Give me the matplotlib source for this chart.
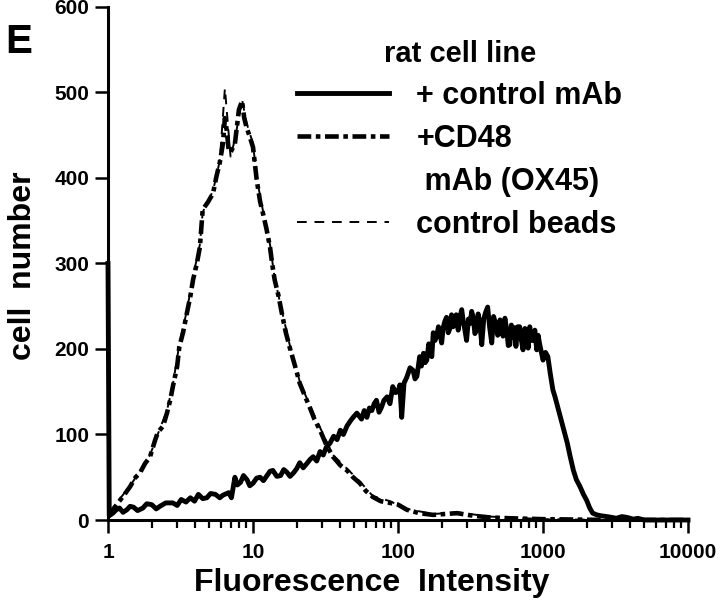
import matplotlib
matplotlib.use("Agg")
import matplotlib.pyplot as plt
from matplotlib.lines import Line2D
from matplotlib.ticker import LogLocator, NullFormatter

plt.rcParams['font.family'] = ['Liberation Sans', 'DejaVu Sans']
plt.rcParams['font.weight'] = 'bold'

# control mAb histogram (solid), (intensity, cell count)
ctrl_points = [
    (1.0, 300), (1.02, 5), (1.08, 8), (1.14, 12), (1.2, 14), (1.27, 9), (1.35, 12),
    (1.42, 16), (1.5, 15), (1.6, 11), (1.74, 14), (1.85, 19), (2.0, 18), (2.15, 13),
    (2.28, 16), (2.5, 20), (2.8, 20), (3.0, 17), (3.2, 24), (3.45, 21), (3.7, 26),
    (3.95, 22), (4.2, 30), (4.5, 25), (4.8, 26), (5.1, 31), (5.5, 30), (5.9, 26),
    (6.2, 29), (6.8, 32), (7.1, 26), (7.5, 50), (7.8, 41), (8.2, 44), (8.6, 52),
    (9.1, 47), (9.5, 40), (10, 43), (10.6, 49), (11.2, 50), (11.8, 46), (12.5, 52),
    (13.1, 57), (13.7, 58), (14.6, 51), (15.5, 52), (16.3, 59), (17.1, 56), (18, 51),
    (19, 55), (20, 60), (21, 67), (22.2, 61), (23.5, 66), (24.8, 71), (26, 74),
    (27.5, 69), (29, 80), (30.5, 76), (32, 85), (34, 90), (36, 98), (38, 94),
    (40, 105), (42, 100), (44.5, 110), (47, 116), (49, 120), (52, 125), (56, 118),
    (58.5, 128), (61, 120), (63.5, 131), (66, 128), (68.5, 136), (71, 140), (74, 126),
    (77, 132), (80, 140), (84, 144), (88, 136), (92, 156), (96, 149), (100, 150),
    (103, 158), (106, 120), (110, 160), (115, 167), (121, 178), (127, 175), (131, 165),
    (135, 168), (141, 191), (145, 180), (150, 195), (154, 184), (158, 187), (163, 206),
    (167, 200), (171, 191), (175, 219), (180, 210), (185, 215), (190, 226), (194, 219),
    (200, 207), (205, 225), (210, 232), (216, 237), (222, 219), (228, 224), (234, 240),
    (240, 226), (246, 236), (252, 240), (260, 222), (267, 237), (275, 246), (282, 232),
    (290, 221), (297, 210), (306, 235), (315, 230), (322, 244), (330, 237), (339, 218),
    (348, 222), (357, 241), (367, 230), (378, 205), (390, 235), (402, 243), (415, 249),
    (428, 226), (443, 207), (456, 238), (470, 230), (487, 216), (505, 234), (517, 226),
    (530, 215), (546, 236), (562, 222), (576, 204), (590, 205), (605, 228), (620, 214),
    (635, 225), (650, 203), (670, 226), (690, 226), (710, 210), (728, 199), (750, 224),
    (770, 222), (790, 201), (810, 226), (830, 210), (850, 210), (878, 222), (905, 199),
    (925, 216), (950, 205), (975, 196), (1000, 187), (1040, 196), (1080, 191),
    (1120, 172), (1170, 152), (1210, 144), (1250, 135), (1320, 120), (1400, 104),
    (1470, 90), (1540, 74), (1620, 58), (1700, 47), (1800, 39), (1900, 30), (2000, 23),
    (2100, 14), (2200, 8), (2350, 6), (2500, 5), (2760, 4), (3000, 3), (3200, 2),
    (3500, 4), (3800, 3), (4200, 1), (4500, 2), (5000, 0), (10000, 0),
]

# +CD48 mAb (OX45) histogram (dash-dot)
cd48_points = [
    (1.0, 5), (1.08, 12), (1.21, 23), (1.3, 30), (1.42, 39), (1.55, 50), (1.66, 55),
    (1.8, 66), (1.95, 74), (2.1, 92), (2.2, 102), (2.4, 110), (2.55, 125), (2.7, 142),
    (2.8, 156), (3.0, 180), (3.1, 202), (3.3, 220), (3.5, 242), (3.7, 262), (3.86, 281),
    (4.1, 300), (4.3, 319), (4.5, 363), (4.9, 372), (5.3, 382), (5.6, 402), (5.9, 418),
    (6.2, 440), (6.4, 470), (6.6, 455), (6.8, 432), (7.0, 430), (7.5, 440), (8.0, 480),
    (8.4, 490), (8.7, 470), (9.0, 460), (9.5, 448), (10, 436), (10.6, 398), (11.2, 372),
    (11.7, 359), (12.4, 340), (13.1, 319), (13.6, 298), (14.1, 281), (15.0, 262),
    (15.8, 242), (16.8, 220), (17.9, 202), (19.5, 180), (21, 160), (22.8, 145),
    (24.6, 132), (26.5, 118), (29, 105), (32, 88), (35.6, 74), (40, 64), (44.5, 58),
    (49, 50), (54.6, 43), (60, 34), (67, 27), (76, 22), (88, 20), (100, 18), (115, 12),
    (140, 8), (175, 6), (210, 7), (255, 8), (330, 5), (430, 3), (600, 2), (1000, 1),
    (3000, 0), (10000, 0),
]

# control beads histogram (dashed)
beads_points = [
    (1.0, 8), (1.08, 14), (1.21, 25), (1.42, 40), (1.66, 57), (1.95, 76), (2.2, 100),
    (2.55, 128), (2.8, 158), (3.1, 205), (3.5, 245), (3.86, 285), (4.3, 322), (4.5, 360),
    (5.3, 385), (5.9, 420), (6.4, 505), (7.0, 425), (7.5, 445), (8.4, 492), (9.0, 465),
    (10, 440), (10.6, 400), (11.7, 362), (13.1, 322), (14.1, 283), (15.8, 245),
    (17.9, 205), (21, 162), (24.6, 134), (29, 108), (35.6, 76), (44.5, 60), (54.6, 45),
    (67, 28), (88, 22), (115, 13), (175, 7), (255, 9), (430, 4), (1000, 1), (3000, 0),
    (10000, 0),
]

x_ticks = [1, 10, 100, 1000, 10000]
x_tick_labels = ['1', '10', '100', '1000', '10000']
y_ticks = [0, 100, 200, 300, 400, 500, 600]

ctrl_x, ctrl_y = zip(*ctrl_points)
cd48_x, cd48_y = zip(*cd48_points)
beads_x, beads_y = zip(*beads_points)

fig = plt.figure(figsize=(7.2, 6.13), dpi=100)
ax = fig.add_axes([0.15, 0.1517, 0.8056, 0.837])

ax.plot(ctrl_x, ctrl_y, color='black', lw=3.5, clip_on=False)
ax.plot(cd48_x, cd48_y, color='black', lw=3.3, linestyle=(0, (3, 1, 1, 1)))
ax.plot(beads_x, beads_y, color='black', lw=1.4, linestyle=(0, (5, 4)))

ax.set_xscale('log')
ax.set_xlim(1, 10000)
ax.set_ylim(0, 600)
ax.set_xticks(x_ticks)
ax.set_xticklabels(x_tick_labels)
ax.xaxis.set_minor_locator(LogLocator(base=10, subs=range(2, 10)))
ax.xaxis.set_minor_formatter(NullFormatter())
ax.set_yticks(y_ticks)

for s in ['top', 'right']:
    ax.spines[s].set_visible(False)
for s in ['left', 'bottom']:
    ax.spines[s].set_linewidth(2.2)

ax.tick_params(axis='both', which='major', direction='out', length=9.5, width=1.8,
               labelsize=15)
ax.tick_params(axis='x', which='major', pad=7)
ax.tick_params(axis='y', which='major', pad=4)
ax.tick_params(axis='x', which='minor', direction='out', length=5.5, width=1.6)

ax.set_xlabel('Fluorescence  Intensity', fontsize=23, fontweight='bold')
ax.xaxis.set_label_coords(0.455, -0.093)
ax.set_ylabel('cell  number', fontsize=23, fontweight='bold')
ax.yaxis.set_label_coords(-0.12, 0.495)

fig.text(5 / 720, 1 - 53 / 613, 'E', fontsize=29, fontweight='bold', va='baseline', ha='left')

handles = [Line2D([], [], color='black', lw=3.5),
           Line2D([], [], color='black', lw=3.3, linestyle=(0, (3, 1, 1, 1))),
           Line2D([], [], color='none'),
           Line2D([], [], color='black', lw=1.4, linestyle=(0, (5, 4)))]
labels = ['+ control mAb', '+CD48', ' mAb (OX45)', 'control beads']
leg = ax.legend(handles, labels, loc='upper left', bbox_to_anchor=(0.326, 0.935),
                frameon=False, fontsize=22, title='rat cell line', title_fontsize=21,
                handlelength=3.0, handletextpad=0.9, labelspacing=0.42,
                borderpad=0, borderaxespad=0)
leg.get_title().set_fontweight('bold')

fig.savefig('out.png', dpi=100)
